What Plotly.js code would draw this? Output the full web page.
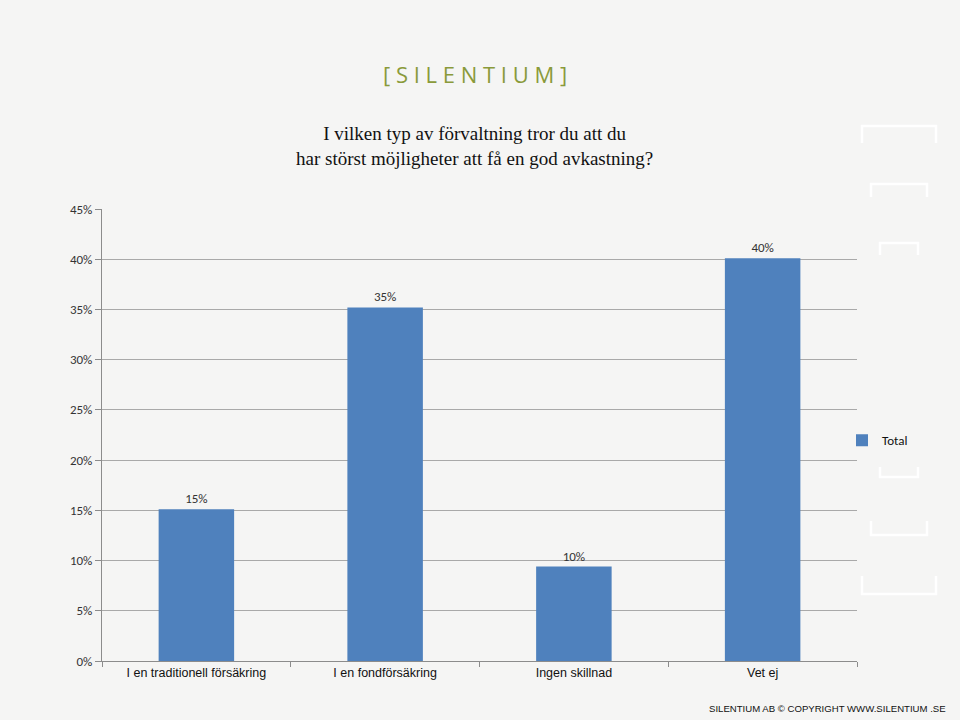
<!DOCTYPE html>
<html><head><meta charset="utf-8">
<script src="https://cdn.plot.ly/plotly-3.0.1.min.js"></script>
<style>html,body{margin:0;padding:0;background:#f5f5f4;}</style>
</head><body>
<div id="chart" style="width:960px;height:720px;"></div>
<script>
const categories = ["I en traditionell försäkring", "I en fondförsäkring", "Ingen skillnad", "Vet ej"];
const values = [0.151, 0.352, 0.094, 0.401];
const valueLabels = ["15%", "35%", "10%", "40%"];
const seriesName = "Total";
const tickVals = [0, 0.05, 0.10, 0.15, 0.20, 0.25, 0.30, 0.35, 0.40, 0.45];
const tickText = ["0%", "5%", "10%", "15%", "20%", "25%", "30%", "35%", "40%", "45%"];

const bodyFont = "Carlito, 'Open Sans', 'Liberation Sans', sans-serif";

const trace = {
  type: "bar",
  x: categories,
  y: values,
  name: seriesName,
  marker: {color: "#4f81bd"},
  text: valueLabels,
  textposition: "outside",
  textfont: {family: bodyFont, size: 13, color: "#333333"},
  cliponaxis: false,
  showlegend: true
};

// decorative white brackets on the right (pixel positions converted to paper coords)
function px(x){ return (x - 102) / 755; }
function py(y){ return (661 - y) / 452; }
const shapes = [];
const topBrackets = [[862,936,126,143],[871,927,184,197],[880,918,243,255]];
const botBrackets = [[862,936,594,576],[871,927,535,521],[880,918,477,467]];
topBrackets.concat(botBrackets).forEach(function(b){
  shapes.push({type:"path", xref:"paper", yref:"paper", layer:"below",
    path: "M "+px(b[0])+" "+py(b[3])+" L "+px(b[0])+" "+py(b[2])+" L "+px(b[1])+" "+py(b[2])+" L "+px(b[1])+" "+py(b[3]),
    line:{color:"#ffffff", width:2.5}});
});

const layout = {
  width: 960, height: 720,
  paper_bgcolor: "#f5f5f4",
  plot_bgcolor: "rgba(0,0,0,0)",
  margin: {l: 102, r: 103, t: 209, b: 59},
  bargap: 0.6,
  font: {family: bodyFont, size: 13, color: "#333333"},
  xaxis: {
    showgrid: false, zeroline: false,
    showline: true, linecolor: "#8c8c8c", linewidth: 1,
    ticks: "outside", tickson: "boundaries", ticklen: 5, tickcolor: "#8c8c8c",
    tickfont: {family: "Arial, 'Liberation Sans', sans-serif", size: 12.5, color: "#111111"}
  },
  yaxis: {
    range: [0, 0.45],
    tickvals: tickVals, ticktext: tickText,
    showgrid: true, gridcolor: "#a9a9a9", gridwidth: 1,
    zeroline: false,
    showline: true, linecolor: "#8c8c8c", linewidth: 1,
    ticks: "outside", ticklen: 6, tickcolor: "#8c8c8c",
    tickfont: {family: bodyFont, size: 13, color: "#333333"}
  },
  legend: {
    x: px(842), y: py(438)-0.005, xanchor: "left", yanchor: "middle",
    bgcolor: "rgba(0,0,0,0)",
    font: {family: bodyFont, size: 13, color: "#111111"},
    itemwidth: 30
  },
  showlegend: true,
  shapes: shapes,
  annotations: [
    {xref: "paper", yref: "paper", x: px(474), y: py(146), xanchor: "center", yanchor: "middle",
     text: "I vilken typ av förvaltning tror du att du<br>har störst möjligheter att få en god avkastning?",
     showarrow: false, align: "center",
     font: {family: "'Liberation Serif', 'DejaVu Serif', serif", size: 19, color: "#111111"}},
    {xref: "paper", yref: "paper", x: px(475), y: py(74), xanchor: "center", yanchor: "middle",
     text: "[ S I L E N T I U M ]", showarrow: false,
     font: {family: "'Open Sans', 'Liberation Sans', sans-serif", size: 22, color: "#8a9a3a"}},
    {xref: "paper", yref: "paper", x: px(948), y: py(708), xanchor: "right", yanchor: "middle",
     text: "SILENTIUM AB © COPYRIGHT WWW.SILENTIUM .SE", showarrow: false,
     font: {family: "Arial, 'Liberation Sans', sans-serif", size: 9.6, color: "#111111"}}
  ]
};

Plotly.newPlot("chart", [trace], layout, {staticPlot: true, displayModeBar: false});
</script>
</body></html>
